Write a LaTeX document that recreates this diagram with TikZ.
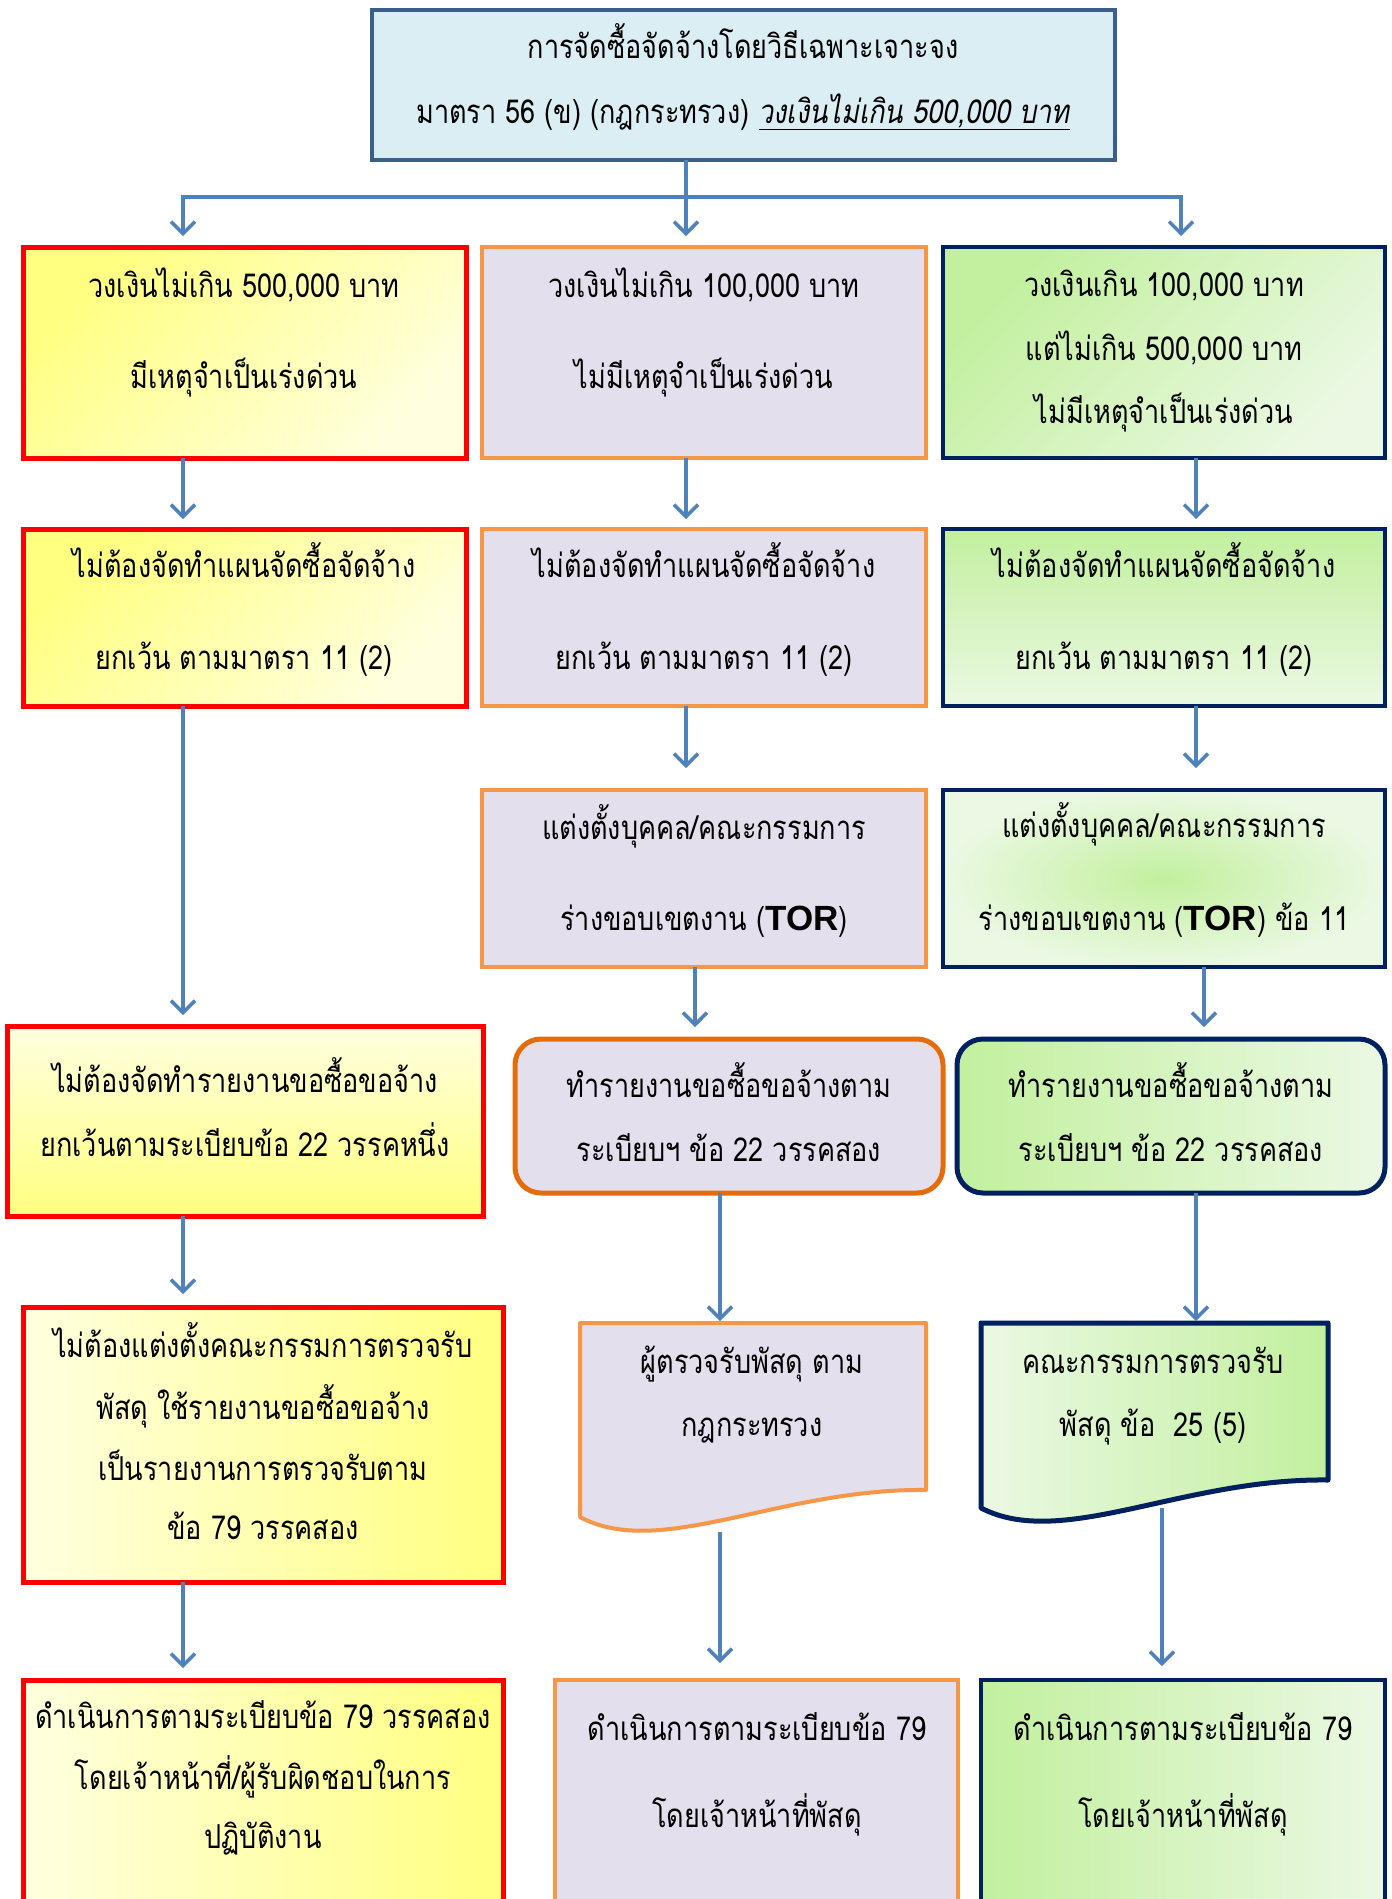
\documentclass[tikz,border=0pt]{standalone}
\usepackage{fontspec}
\usetikzlibrary{arrows.meta,calc}
\newfontfamily\thai[Script=Thai,FakeStretch=0.82]{Loma}
\newfontfamily\thaisl[Script=Thai,FakeStretch=0.82,FakeSlant=0.18]{Loma}
\newfontfamily\torfont{Liberation Sans}
\definecolor{arrowblue}{HTML}{4F81BD}
\definecolor{topfill}{HTML}{DBEEF4}
\definecolor{topdraw}{HTML}{3A5F8B}
\definecolor{redb}{HTML}{FF0000}
\definecolor{yelS}{HTML}{FFFF80}
\definecolor{yelL}{HTML}{FFFFE0}
\definecolor{orng}{HTML}{F79646}
\definecolor{orngD}{HTML}{E46C0A}
\definecolor{lav}{HTML}{E4DFEC}
\definecolor{navy}{HTML}{002060}
\definecolor{grnS}{HTML}{C2F09E}
\definecolor{grnL}{HTML}{EBF8E3}
\newcommand\mkbox[6]{\node[#2,minimum width={(#5-#3)*1pt},minimum height={(#6-#4)*1pt}] (#1) at ({(#3+#5)/2},{(#4+#6)/2}) {};}
\newcommand\tline[4]{\node[txt] (#1) at (#2,{#3+2}) {#4};}
\newcommand\TOR{{\torfont\bfseries\fontsize{35}{38}\selectfont TOR}}
\begin{document}
\begin{tikzpicture}[x=1pt,y=-1pt,
  boxbase/.style={rectangle,inner sep=0pt,outer sep=0pt},
  topbox/.style={boxbase,draw=topdraw,fill=topfill,line width=4pt},
  redbox/.style={boxbase,draw=redb,line width=5pt},
  orbox/.style={boxbase,draw=orng,fill=lav,line width=4pt},
  nvbox/.style={boxbase,draw=navy,line width=4.5pt},
  txt/.style={anchor=base,inner sep=0pt,font=\thai\fontsize{33}{36}\selectfont,text=black},
  arr/.style={draw=arrowblue,line width=3.5pt,-{Straight Barb[length=12pt,width=24pt,line width=3.5pt]}}
]
\clip (0,0) rectangle (1392,1899);
\fill[white] (0,0) rectangle (1392,1899);
% boxes
\mkbox{top}{topbox}{372}{10}{1115}{160}
\mkbox{r1L}{redbox,left color=yelS,right color=yelL,shading angle=45}{23}{247}{466}{458}
\mkbox{r1M}{orbox}{482}{247}{926}{458}
\mkbox{r1R}{nvbox,left color=grnS,right color=grnL,shading angle=45}{943}{247}{1385}{458}
\mkbox{r2L}{redbox,left color=yelS,right color=yelL,shading angle=45}{23}{529}{466}{706}
\mkbox{r2M}{orbox}{482}{529}{926}{706}
\mkbox{r2R}{nvbox,top color=grnS,bottom color=grnL}{943}{529}{1385}{706}
\mkbox{r3M}{orbox}{482}{790}{926}{967}
\mkbox{r3R}{nvbox,inner color=grnS,outer color=grnL}{943}{790}{1385}{967}
\mkbox{r4L}{redbox,top color=yelL,bottom color=yelS}{7}{1026}{483}{1216}
\mkbox{r4M}{orbox,draw=orngD,line width=5pt,rounded corners=26pt}{515}{1039}{943}{1193}
\mkbox{r4R}{nvbox,line width=5pt,rounded corners=26pt,left color=grnS,right color=grnL}{957}{1039}{1385}{1193}
\mkbox{r5L}{redbox,left color=yelL,right color=yelS}{23}{1307}{503}{1582}
\mkbox{r6L}{redbox,left color=yelL,right color=yelS}{23}{1680}{503}{1940}
\mkbox{r6M}{orbox}{555}{1680}{958}{1940}
\mkbox{r6R}{nvbox,left color=grnS,right color=grnL}{981}{1680}{1385}{1940}
% document shapes
\draw[orng,line width=4pt,fill=lav,line join=round] (580,1323) -- (926,1323) -- (926,1490)
  .. controls (780,1488) and (660,1560) .. (580,1517) -- cycle;
\draw[navy,line width=5pt,left color=grnL,right color=grnS,line join=round] (981,1323) -- (1328,1323) -- (1328,1480)
  .. controls (1182,1478) and (1062,1550) .. (981,1508) -- cycle;
\coordinate (d5Mt) at (720,1323);
\coordinate (d5Mb) at (720,1532);
\coordinate (d5Rt) at (1196,1323);
\coordinate (d5Rb) at (1162,1508);
% arrow columns
\coordinate (cL) at (183,0);
\coordinate (cM) at (686,0);
\coordinate (cM3) at (695,0);
\coordinate (cM4) at (720,0);
\coordinate (cR0) at (1181,0);
\coordinate (cR) at (1196,0);
\coordinate (cR3) at (1204,0);
\coordinate (cR5) at (1162,0);
\coordinate (hub) at (686,197);
% connectors
\draw[arr,shorten >=11pt] (top.south -| hub) -- (r1M.north -| cM);
\draw[arr,shorten >=11pt] (hub) -| (r1L.north -| cL);
\draw[arr,shorten >=11pt] (hub) -| (r1R.north -| cR0);
\draw[arr,shorten >=10pt] (r1L.south -| cL) -- (r2L.north -| cL);
\draw[arr,shorten >=10pt] (r1M.south -| cM) -- (r2M.north -| cM);
\draw[arr,shorten >=10pt] (r1R.south -| cR) -- (r2R.north -| cR);
\draw[arr,shorten >=11pt] (r2L.south -| cL) -- (r4L.north -| cL);
\draw[arr,shorten >=22pt] (r2M.south -| cM) -- (r3M.north -| cM);
\draw[arr,shorten >=22pt] (r2R.south -| cR) -- (r3R.north -| cR);
\draw[arr,shorten >=12pt] (r3M.south -| cM3) -- (r4M.north -| cM3);
\draw[arr,shorten >=12pt] (r3R.south -| cR3) -- (r4R.north -| cR3);
\draw[arr,shorten >=13pt] (r4L.south -| cL) -- (r5L.north -| cL);
\draw[arr,shorten >=2pt] (r4M.south -| cM4) -- (d5Mt);
\draw[arr,shorten >=2pt] (r4R.south -| cR) -- (d5Rt);
\draw[arr,shorten >=12pt] (r5L.south -| cL) -- (r6L.north -| cL);
\draw[arr,shorten >=17pt] (d5Mb) -- (r6M.north -| cM4);
\draw[arr,shorten >=14pt] (d5Rb) -- (r6R.north -| cR5);
% texts
\tline{t0a}{743}{56}{การจัดซื้อจัดจ้างโดยวิธีเฉพาะเจาะจง}
\tline{t0b}{743}{121}{มาตรา 56 (ข) (กฎกระทรวง) \underline{\thaisl วงเงินไม่เกิน 500,000 บาท}}
\tline{t1La}{244}{295}{วงเงินไม่เกิน 500,000 บาท}
\tline{t1Lb}{244}{386}{มีเหตุจำเป็นเร่งด่วน}
\tline{t1Ma}{704}{295}{วงเงินไม่เกิน 100,000 บาท}
\tline{t1Mb}{704}{386}{ไม่มีเหตุจำเป็นเร่งด่วน}
\tline{t1Ra}{1164}{294}{วงเงินเกิน 100,000 บาท}
\tline{t1Rb}{1164}{358}{แต่ไม่เกิน 500,000 บาท}
\tline{t1Rc}{1164}{421}{ไม่มีเหตุจำเป็นเร่งด่วน}
\tline{t2La}{244}{575}{ไม่ต้องจัดทำแผนจัดซื้อจัดจ้าง}
\tline{t2Lb}{244}{667}{ยกเว้น ตามมาตรา 11 (2)}
\tline{t2Ma}{704}{575}{ไม่ต้องจัดทำแผนจัดซื้อจัดจ้าง}
\tline{t2Mb}{704}{667}{ยกเว้น ตามมาตรา 11 (2)}
\tline{t2Ra}{1164}{575}{ไม่ต้องจัดทำแผนจัดซื้อจัดจ้าง}
\tline{t2Rb}{1164}{667}{ยกเว้น ตามมาตรา 11 (2)}
\tline{t3Ma}{704}{837}{แต่งตั้งบุคคล/คณะกรรมการ}
\tline{t3Mb}{704}{928}{ร่างขอบเขตงาน (\TOR)}
\tline{t3Ra}{1164}{835}{แต่งตั้งบุคคล/คณะกรรมการ}
\tline{t3Rb}{1164}{928}{ร่างขอบเขตงาน (\TOR) ข้อ 11}
\tline{t4La}{245}{1090}{ไม่ต้องจัดทำรายงานขอซื้อขอจ้าง}
\tline{t4Lb}{245}{1154}{ยกเว้นตามระเบียบข้อ 22 วรรคหนึ่ง}
\tline{t4Ma}{729}{1095}{ทำรายงานขอซื้อขอจ้างตาม}
\tline{t4Mb}{729}{1159}{ระเบียบฯ ข้อ 22 วรรคสอง}
\tline{t4Ra}{1171}{1095}{ทำรายงานขอซื้อขอจ้างตาม}
\tline{t4Rb}{1171}{1159}{ระเบียบฯ ข้อ 22 วรรคสอง}
\tline{t5La}{263}{1355}{ไม่ต้องแต่งตั้งคณะกรรมการตรวจรับ}
\tline{t5Lb}{263}{1417}{พัสดุ ใช้รายงานขอซื้อขอจ้าง}
\tline{t5Lc}{263}{1478}{เป็นรายงานการตรวจรับตาม}
\tline{t5Ld}{263}{1537}{ข้อ 79 วรรคสอง}
\tline{t5Ma}{752}{1371}{ผู้ตรวจรับพัสดุ ตาม}
\tline{t5Mb}{752}{1434}{กฎกระทรวง}
\tline{t5Ra}{1153}{1371}{คณะกรรมการตรวจรับ}
\tline{t5Rb}{1153}{1434}{พัสดุ ข้อ~~25 (5)}
\tline{t6La}{263}{1726}{ดำเนินการตามระเบียบข้อ 79 วรรคสอง}
\tline{t6Lb}{263}{1787}{โดยเจ้าหน้าที่/ผู้รับผิดชอบในการ}
\tline{t6Lc}{263}{1846}{ปฏิบัติงาน}
\tline{t6Ma}{757}{1738}{ดำเนินการตามระเบียบข้อ 79}
\tline{t6Mb}{757}{1825}{โดยเจ้าหน้าที่พัสดุ}
\tline{t6Ra}{1183}{1738}{ดำเนินการตามระเบียบข้อ 79}
\tline{t6Rb}{1183}{1825}{โดยเจ้าหน้าที่พัสดุ}
\end{tikzpicture}
\end{document}
